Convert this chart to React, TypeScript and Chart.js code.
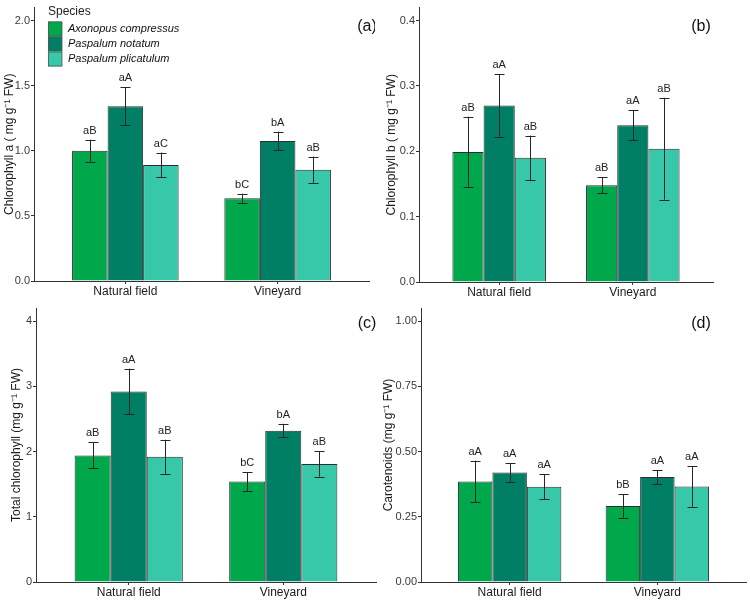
import React, { useEffect, useRef } from "react";
import { Chart, registerables } from "chart.js";

Chart.register(...registerables);

// ---------- data ----------
const categories = ["Natural field", "Vineyard"];
const species = ["Axonopus compressus", "Paspalum notatum", "Paspalum plicatulum"];
const speciesColors = ["#00A84C", "#007F65", "#36C8A9"];

// (a) Chlorophyll a
const chlAMean = [[1.0, 0.636], [1.343, 1.076], [0.891, 0.855]];
const chlAErr = [[0.085, 0.035], [0.145, 0.071], [0.096, 0.1]];
const chlALetters = [["aB", "bC"], ["aA", "bA"], ["aC", "aB"]];
const chlATicks = [0, 0.5, 1.0, 1.5, 2.0];

// (b) Chlorophyll b
const chlBMean = [[0.199, 0.148], [0.27, 0.24], [0.19, 0.204]];
const chlBErr = [[0.054, 0.012], [0.048, 0.023], [0.034, 0.078]];
const chlBLetters = [["aB", "aB"], ["aA", "aA"], ["aB", "aB"]];
const chlBTicks = [0, 0.1, 0.2, 0.3, 0.4];

// (c) Total chlorophyll
const totMean = [[1.94, 1.54], [2.92, 2.32], [1.92, 1.81]];
const totErr = [[0.2, 0.145], [0.35, 0.105], [0.26, 0.195]];
const totLetters = [["aB", "bC"], ["aA", "bA"], ["aB", "aB"]];
const totTicks = [0, 1, 2, 3, 4];

// (d) Carotenoids
const carMean = [[0.385, 0.291], [0.42, 0.402], [0.365, 0.366]];
const carErr = [[0.08, 0.045], [0.036, 0.027], [0.048, 0.078]];
const carLetters = [["aA", "bB"], ["aA", "aA"], ["aA", "aA"]];
const carTicks = [0, 0.25, 0.5, 0.75, 1.0];

const FONT = "'Liberation Sans', Arial, Helvetica, sans-serif";

// ---------- plugins ----------
const errorBarPlugin = {
  id: "errbars",
  afterDatasetsDraw(chart: any) {
    const { ctx } = chart;
    const y = chart.scales.y;
    chart.data.datasets.forEach((ds: any, di: number) => {
      const meta = chart.getDatasetMeta(di);
      meta.data.forEach((bar: any, i: number) => {
        const v = ds.data[i].y;
        const e = ds.errors[i];
        const top = y.getPixelForValue(v + e);
        const bot = y.getPixelForValue(v - e);
        const x = Math.round(bar.x) + 0.5;
        ctx.save();
        ctx.strokeStyle = "#262626";
        ctx.lineWidth = 1;
        ctx.beginPath();
        ctx.moveTo(x, top);
        ctx.lineTo(x, bot);
        ctx.moveTo(x - 5, Math.round(top) + 0.5);
        ctx.lineTo(x + 5, Math.round(top) + 0.5);
        ctx.moveTo(x - 5, Math.round(bot) + 0.5);
        ctx.lineTo(x + 5, Math.round(bot) + 0.5);
        ctx.stroke();
        ctx.fillStyle = "#222";
        ctx.font = `11px ${FONT}`;
        ctx.textAlign = "center";
        ctx.textBaseline = "alphabetic";
        ctx.fillText(ds.letters[i], bar.x, top - 6);
        ctx.restore();
      });
    });
  },
};

const decoPlugin = {
  id: "deco",
  afterDraw(chart: any, _args: any, opts: any) {
    const { ctx } = chart;
    ctx.save();
    if (opts.label) {
      ctx.fillStyle = "#111";
      ctx.font = `16px ${FONT}`;
      ctx.textAlign = "center";
      ctx.textBaseline = "middle";
      ctx.fillText(opts.label, opts.lx, opts.ly);
    }
    if (opts.legend) {
      const x0 = 48;
      ctx.fillStyle = "#222";
      ctx.font = `12px ${FONT}`;
      ctx.textAlign = "left";
      ctx.textBaseline = "middle";
      ctx.fillText("Species", x0, 12);
      chart.data.datasets.forEach((ds: any, i: number) => {
        const by = 21.5 + i * 15;
        ctx.fillStyle = ds.backgroundColor;
        ctx.fillRect(x0, by, 14, 15);
        ctx.strokeStyle = "#555";
        ctx.lineWidth = 0.8;
        ctx.strokeRect(x0 + 0.5, by + 0.5, 13.5, 14);
        ctx.fillStyle = "#111";
        ctx.font = `italic 11px ${FONT}`;
        ctx.fillText(ds.label, x0 + 20, by + 7.5);
      });
    }
    ctx.restore();
  },
};

type PanelCfg = {
  left: number; top: number; width: number; height: number;
  padTop: number; padRight: number; axisW: number; axisH: number;
  mean: number[][]; err: number[][]; letters: string[][];
  ticks: number[]; yMax: number; decimals: number; title: string;
  titlePad: number; label: string; lx: number; ly: number; legend?: boolean;
};

function Panel({ cfg }: { cfg: PanelCfg }) {
  const ref = useRef<HTMLCanvasElement | null>(null);
  useEffect(() => {
    if (!ref.current) return;
    const datasets = species.map((sp, s) => ({
      label: sp,
      data: categories.map((_c, i) => ({ x: i + 1, y: cfg.mean[s][i] })),
      errors: cfg.err[s],
      letters: cfg.letters[s],
      backgroundColor: speciesColors[s],
      borderColor: "#2d2d2d",
      borderWidth: 1,
      categoryPercentage: 0.7,
      barPercentage: 1.0,
      borderSkipped: "bottom",
    }));
    const chart = new Chart(ref.current, {
      type: "bar",
      data: { datasets } as any,
      plugins: [errorBarPlugin, decoPlugin],
      options: {
        responsive: false,
        maintainAspectRatio: false,
        animation: false,
        layout: {
          autoPadding: false,
          padding: { top: cfg.padTop, right: cfg.padRight, left: 0, bottom: 0 },
        },
        plugins: {
          legend: { display: false },
          tooltip: { enabled: false },
          deco: { label: cfg.label, lx: cfg.lx, ly: cfg.ly, legend: !!cfg.legend },
        } as any,
        scales: {
          x: {
            type: "linear",
            min: 0.4,
            max: 2.6,
            offset: false,
            afterFit: (s: any) => { s.height = cfg.axisH; },
            afterBuildTicks: (s: any) => { s.ticks = categories.map((_c, i) => ({ value: i + 1 })); },
            ticks: {
              callback: (v: any) => categories[Math.round(Number(v)) - 1] ?? "",
              color: "#1a1a1a",
              font: { family: FONT, size: 12 },
              padding: 0,
              maxRotation: 0,
              autoSkip: false,
            },
            grid: { offset: false, drawOnChartArea: false, drawTicks: true, tickLength: 3, color: "#333", lineWidth: 1 },
            border: { display: true, color: "#333", width: 1 },
          },
          y: {
            type: "linear",
            min: 0,
            max: cfg.yMax,
            afterFit: (s: any) => { s.width = cfg.axisW; },
            afterBuildTicks: (s: any) => { s.ticks = cfg.ticks.map((v) => ({ value: v })); },
            ticks: {
              callback: (v: any) => Number(v).toFixed(cfg.decimals),
              color: "#3a3a3a",
              font: { family: FONT, size: 11 },
              padding: 1,
            },
            grid: { drawOnChartArea: false, drawTicks: true, tickLength: 3, color: "#333", lineWidth: 1 },
            border: { display: true, color: "#333", width: 1 },
            title: {
              display: true,
              text: cfg.title,
              color: "#1a1a1a",
              font: { family: FONT, size: 12 },
              padding: { top: cfg.titlePad, bottom: 0 },
            },
          },
        },
      } as any,
    });
    return () => chart.destroy();
  }, []);
  return (
    <canvas
      ref={ref}
      width={cfg.width}
      height={cfg.height}
      style={{ position: "absolute", left: cfg.left, top: cfg.top, width: cfg.width, height: cfg.height }}
    />
  );
}

const panels: PanelCfg[] = [
  {
    left: 0, top: 0, width: 375, height: 300, padTop: 5, padRight: 6, axisW: 34, axisH: 19,
    mean: chlAMean, err: chlAErr, letters: chlALetters, ticks: chlATicks, yMax: 2.1, decimals: 1,
    title: "Chlorophyll a ( mg g⁻¹ FW)", titlePad: 2, label: "(a)", lx: 367, ly: 27, legend: true,
  },
  {
    left: 375, top: 0, width: 375, height: 300, padTop: 5, padRight: 37, axisW: 44, axisH: 18,
    mean: chlBMean, err: chlBErr, letters: chlBLetters, ticks: chlBTicks, yMax: 0.42, decimals: 1,
    title: "Chlorophyll b ( mg g⁻¹ FW)", titlePad: 9, label: "(b)", lx: 326, ly: 27,
  },
  {
    left: 0, top: 300, width: 380, height: 314, padTop: 8, padRight: 4, axisW: 36, axisH: 32,
    mean: totMean, err: totErr, letters: totLetters, ticks: totTicks, yMax: 4.2, decimals: 0,
    title: "Total chlorophyll (mg g⁻¹ FW)", titlePad: 9, label: "(c)", lx: 367, ly: 24,
  },
  {
    left: 375, top: 300, width: 375, height: 314, padTop: 8, padRight: 4, axisW: 46, axisH: 32,
    mean: carMean, err: carErr, letters: carLetters, ticks: carTicks, yMax: 1.05, decimals: 2,
    title: "Carotenoids (mg g⁻¹ FW)", titlePad: 6, label: "(d)", lx: 326, ly: 24,
  },
];

export default function App() {
  return (
    <div style={{ position: "fixed", left: 0, top: 0, width: 750, height: 614, background: "#fff", overflow: "hidden" }}>
      {panels.map((p, i) => (
        <Panel key={i} cfg={p} />
      ))}
    </div>
  );
}
